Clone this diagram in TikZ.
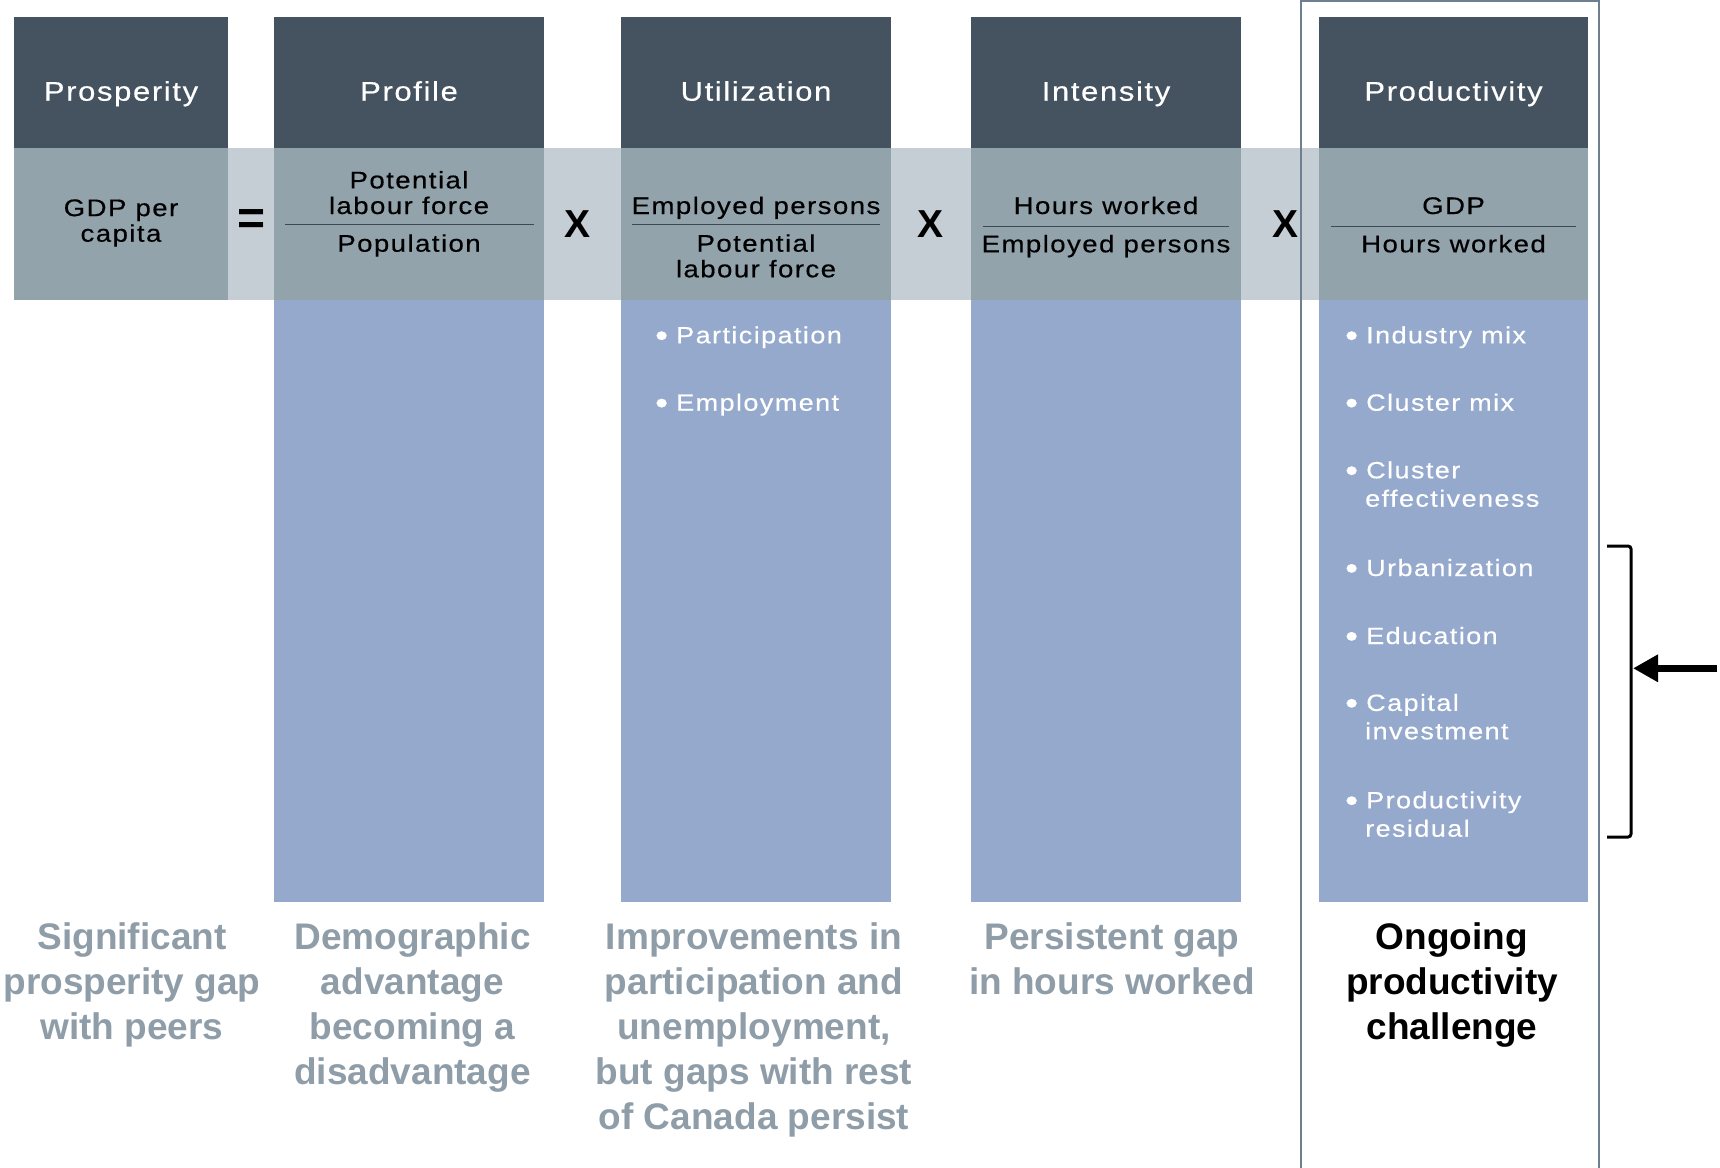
\documentclass[tikz,border=0pt]{standalone}
\usepackage{fontspec}
\setmainfont{Liberation Sans}
\newfontfamily\wfont[FakeStretch=1.15, LetterSpace=6, FakeBold=0.4]{Liberation Sans}
\usetikzlibrary{arrows.meta}
\definecolor{hdr}{HTML}{44535F}
\definecolor{bandlight}{HTML}{C6CED5}
\definecolor{banddark}{HTML}{93A3AC}
\definecolor{colblue}{HTML}{95A9CC}
\definecolor{framec}{HTML}{6E808F}
\definecolor{sumgrey}{HTML}{8E9DA8}
\definecolor{divc}{HTML}{3E4A52}
\tikzset{
  hd/.style={text=white, font=\wfont\fontsize{27}{30}\selectfont, anchor=base, inner sep=0},
  fr/.style={text=black, font=\wfont\fontsize{24}{25.6}\selectfont, anchor=base, inner sep=0, align=center},
  op/.style={text=black, font=\bfseries\fontsize{39}{40}\selectfont, inner sep=0},
  bl/.style={text=white, font=\wfont\fontsize{23.5}{28.4}\selectfont, anchor=base west, inner sep=0, align=left},
  sm/.style={text=sumgrey, font=\bfseries\fontsize{37}{45}\selectfont, align=center, anchor=base, inner sep=0},
  divline/.style={draw=divc, line width=1},
}
\newcommand{\bul}{\makebox[21pt][l]{\raisebox{-3pt}{\fontsize{32}{28}\selectfont •}}}
\newcommand{\ind}{\hspace*{20pt}}
\begin{document}
\begin{tikzpicture}[x=1pt,y=-1pt]
\useasboundingbox (0,0) rectangle (1720,1167);
% light band
\fill[bandlight] (14,148) rectangle (1588,300);
% Prosperity column
\fill[hdr] (14,17) rectangle (228,148);
\fill[banddark] (14,148) rectangle (228,300);
% other columns
\foreach \a/\b in {274/544, 621/891, 971/1241, 1319/1588}{
  \fill[hdr] (\a,17) rectangle (\b,148);
  \fill[banddark] (\a,148) rectangle (\b,300);
  \fill[colblue] (\a,300) rectangle (\b,902);
}
% frame around productivity
\draw[framec, line width=1.5] (1301,1170) -- (1301,1) -- (1599,1) -- (1599,1170);

% headers
\node[hd] (hP)  at (121,100.7)  {Prosperity};
\node[hd] (hPr) at (409,100.7)  {Profile};
\node[hd] (hU)  at (756,100.7)  {Utilization};
\node[hd] (hI)  at (1106,100.7) {Intensity};
\node[hd] (hPd) at (1453.5,100.7) {Productivity};

% band formulas
\node[fr] (gdp) at (121,241.7) {GDP per\\capita};
\node[text=black, font=\bfseries\fontsize{48}{48}\selectfont, inner sep=0] (eq) at (251.5,222) {=};
\node[fr] (pn) at (409,214) {Potential\\labour force};
\draw[divline] (285,224) -- (534,224);
\node[fr] (pd) at (409,251.7) {Population};
\node[op] (x1) at (577,224) {X};
\node[fr] (un) at (756,214) {Employed persons};
\draw[divline] (632,224) -- (880,224);
\node[fr] (ud) at (756,277.3) {Potential\\labour force};
\node[op] (x2) at (930,224) {X};
\node[fr] (in) at (1106,214) {Hours worked};
\draw[divline] (983,226) -- (1229,226);
\node[fr] (id) at (1106,252.3) {Employed persons};
\node[op] (x3) at (1285.5,224) {X};
\node[fr] (dn) at (1453.5,214) {GDP};
\draw[divline] (1331,226) -- (1576,226);
\node[fr] (dd) at (1453.5,252.3) {Hours worked};

% bullets utilization
\node[bl] (u1) at (655,343.3) {\bul Participation};
\node[bl] (u2) at (655,410.7) {\bul Employment};
% bullets productivity
\node[bl] (p1) at (1345,343.3) {\bul Industry mix};
\node[bl] (p2) at (1345,410.7) {\bul Cluster mix};
\node[bl] (p3) at (1345,506.7) {\bul Cluster\\\ind effectiveness};
\node[bl] (p4) at (1345,576) {\bul Urbanization};
\node[bl] (p5) at (1345,644) {\bul Education};
\node[bl] (p6) at (1345,739.3) {\bul Capital\\\ind investment};
\node[bl] (p7) at (1345,836.7) {\bul Productivity\\\ind residual};

% bracket and arrow
\draw[black, line width=3, rounded corners=3] (1607,546) -- (1631,546) -- (1631,837) -- (1607,837);
\coordinate (brk) at (1633,668.3);
\coordinate (arrS) at (1717,668.3);
\draw[black, line width=7.5, -{Triangle[length=25pt,width=26pt]}] (arrS) -- (brk);

% summaries
\node[sm] (s1) at (132,1039.3) {Significant\\prosperity gap\\with peers};
\node[sm] (s2) at (412.5,1084.3) {Demographic\\advantage\\becoming a\\disadvantage};
\node[sm] (s3) at (754,1129.3) {Improvements in\\participation and\\unemployment,\\but gaps with rest\\of Canada persist};
\node[sm] (s4) at (1112,994.3) {Persistent gap\\in hours worked};
\node[sm, text=black] (s5) at (1452,1039.3) {Ongoing\\productivity\\challenge};
\end{tikzpicture}
\end{document}
